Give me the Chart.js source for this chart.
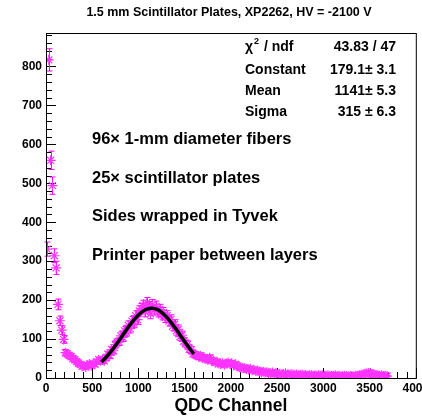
<!DOCTYPE html>
<html>
<head>
<meta charset="utf-8">
<script src="https://cdn.jsdelivr.net/npm/chart.js@4"></script>
<style>
  html, body { margin: 0; padding: 0; background: #fff; }
</style>
</head>
<body>
<canvas id="qdcGrafik" width="422" height="417"></canvas>
<script>
// Histogram: 20-channel bins starting at channel 0 (bin centres 10, 30, 50, ...)
const binWidth = 20;
const counts = [
    331, 817, 559, 494, 314, 283, 189, 147, 123, 99,     // 0 - 200
    65, 62, 58, 55, 50, 47, 42, 38, 35, 30,              // 200 - 400
    31, 28, 33, 36, 32, 37, 35, 42, 47, 44,              // 400 - 600
    46, 44, 52, 61, 58, 73, 70, 86, 92, 93,              // 600 - 800
    108, 104, 121, 118, 135, 127, 146, 141, 160, 150,    // 800 - 1000
    172, 178, 186, 170, 193, 183, 165, 188, 175, 184,    // 1000 - 1200
    170, 176, 162, 168, 155, 160, 146, 150, 133, 138,    // 1200 - 1400
    121, 125, 106, 110, 94, 88, 86, 74, 72, 62,          // 1400 - 1600
    60, 58, 55, 57, 51, 53, 49, 47, 52, 45,              // 1600 - 1800
    44, 40, 42, 37, 36, 38, 34, 37, 40, 36,              // 1800 - 2000
    38, 33, 35, 30, 28, 27, 25, 26, 23, 22,              // 2000 - 2200
    24, 20, 21, 18, 19, 17, 15, 16, 14, 15,              // 2200 - 2400
    13, 12, 14, 11, 12, 10, 11, 9, 10, 12,               // 2400 - 2600
    9, 8, 10, 9, 8, 9, 7, 8, 9, 7,                       // 2600 - 2800
    8, 6, 7, 8, 6, 7, 6, 8, 6, 7,                        // 2800 - 3000
    5, 6, 7, 5, 6, 5, 7, 5, 6, 4,                        // 3000 - 3200
    5, 6, 5, 4, 6, 5, 4, 6, 5, 7,                        // 3200 - 3400
    8, 9, 11, 12, 13, 12, 10, 9, 8, 7,                   // 3400 - 3600
    6, 7, 5, 6, 5                                        // 3600 - 3700
];

// Gaussian fit curve
const fitChannels = [600, 650, 700, 750, 800, 850, 900, 950, 1000, 1050, 1100,
                     1150, 1200, 1250, 1300, 1350, 1400, 1450, 1500, 1550, 1600];
const fitValues = [41.0, 53.2, 67.2, 82.9, 99.7, 116.9, 133.6, 149.0, 162.0, 171.8, 177.6,
                   179.0, 176.0, 168.7, 157.7, 143.7, 127.7, 110.7, 93.5, 77.1, 61.9];

// Axis ticks
const xTickValues = [0, 500, 1000, 1500, 2000, 2500, 3000, 3500, 4000];
const yTickValues = [0, 100, 200, 300, 400, 500, 600, 700, 800];
const xMinorStep = 100;
const yMinorStep = 20;

// Texts
const baslik = '1.5 mm Scintillator Plates, XP2262, HV = -2100 V';
const statLabels = ['Constant', 'Mean', 'Sigma'];
const statValues = ['43.83 / 47', '179.1\u00b1 3.1', '1141\u00b1 5.3', '315 \u00b1 6.3'];
const notlar = ['96\u00d7 1-mm diameter fibers', '25\u00d7 scintillator plates',
                'Sides wrapped in Tyvek', 'Printer paper between layers'];

const fontFam = '"Liberation Sans", Arial, Helvetica, sans-serif';
const pembe = '#ff00ff';

const veriNoktalari = counts.map((c, i) => ({ x: i * binWidth + binWidth / 2, y: c }));
const fitNoktalari = fitChannels.map((ch, i) => ({ x: ch, y: fitValues[i] }));

// Poisson error bars + inward ROOT-style ticks + frame
const rootCizim = {
    id: 'rootCizim',
    beforeDatasetsDraw(chart) {
        const ctx = chart.ctx;
        const xs = chart.scales.x, ys = chart.scales.y;
        const a = chart.chartArea;
        ctx.save();
        ctx.strokeStyle = '#000';
        ctx.lineWidth = 1;
        // ticks on the y axis
        for (let v = 0; v <= ys.max; v += yMinorStep) {
            const py = Math.round(ys.getPixelForValue(v)) + 0.5;
            const len = yTickValues.includes(v) ? 10 : 6;
            ctx.beginPath(); ctx.moveTo(a.left, py); ctx.lineTo(a.left + len, py); ctx.stroke();
        }
        // ticks on the x axis
        for (let v = 0; v <= xs.max; v += xMinorStep) {
            const px = Math.round(xs.getPixelForValue(v)) + 0.5;
            const len = xTickValues.includes(v) ? 10 : 6;
            ctx.beginPath(); ctx.moveTo(px, a.bottom); ctx.lineTo(px, a.bottom - len); ctx.stroke();
        }
        // error bars
        ctx.strokeStyle = pembe;
        veriNoktalari.forEach(p => {
            const err = Math.sqrt(p.y);
            const px = Math.round(xs.getPixelForValue(p.x)) + 0.5;
            const y1 = ys.getPixelForValue(p.y - err);
            const y2 = ys.getPixelForValue(p.y + err);
            ctx.beginPath();
            ctx.moveTo(px, y1); ctx.lineTo(px, y2);
            ctx.moveTo(px - 3, y1); ctx.lineTo(px + 3, y1);
            ctx.moveTo(px - 3, y2); ctx.lineTo(px + 3, y2);
            ctx.stroke();
        });
        ctx.restore();
    },
    afterDraw(chart) {
        const ctx = chart.ctx;
        const a = chart.chartArea;
        ctx.save();
        ctx.strokeStyle = '#000';
        ctx.lineWidth = 1;
        ctx.strokeRect(a.left + 0.5, a.top + 0.5, a.right - a.left, a.bottom - a.top);

        ctx.fillStyle = '#000';
        ctx.textBaseline = 'middle';

        // title
        ctx.textAlign = 'center';
        ctx.font = `bold 12.5px ${fontFam}`;
        ctx.fillText(baslik, 229, 13);

        // stats box
        const satirY = [47, 70, 91, 112];
        ctx.textAlign = 'left';
        ctx.font = `bold 14px ${fontFam}`;
        ctx.fillText('\u03c7', 245, satirY[0]);
        let w = ctx.measureText('\u03c7').width;
        ctx.font = `bold 9px ${fontFam}`;
        ctx.fillText('2', 245 + w + 1, satirY[0] - 5);
        ctx.font = `bold 14px ${fontFam}`;
        ctx.fillText(' / ndf', 245 + w + 7, satirY[0]);
        statLabels.forEach((s, i) => ctx.fillText(s, 245, satirY[i + 1]));
        ctx.textAlign = 'right';
        statValues.forEach((s, i) => ctx.fillText(s, 396, satirY[i]));

        // notes
        ctx.textAlign = 'left';
        ctx.font = `bold 16.5px ${fontFam}`;
        const notY = [139, 178, 216.5, 255];
        notlar.forEach((s, i) => ctx.fillText(s, 92, notY[i]));
        ctx.restore();
    }
};

const ctx = document.getElementById('qdcGrafik').getContext('2d');
new Chart(ctx, {
    type: 'scatter',
    data: {
        datasets: [{
            label: 'fit',
            data: fitNoktalari,
            showLine: true,
            borderColor: '#000',
            borderWidth: 3.5,
            pointRadius: 0,
            tension: 0.4,
            order: 0
        }, {
            label: 'QDC',
            data: veriNoktalari,
            pointStyle: 'star',
            pointRadius: 5,
            borderColor: '#ff33ff',
            backgroundColor: '#ff33ff',
            borderWidth: 1.2,
            order: 1
        }]
    },
    options: {
        responsive: false,
        animation: false,
        layout: { padding: { top: 33, right: 6, left: 0, bottom: 0 } },
        scales: {
            x: {
                type: 'linear',
                min: 0,
                max: 4000,
                afterBuildTicks: s => { s.ticks = xTickValues.map(v => ({ value: v })); },
                afterFit: s => { s.height = 39; s.paddingLeft = 0; s.paddingRight = 0; },
                grid: { display: false, drawTicks: false },
                border: { display: false },
                ticks: {
                    padding: 3,
                    color: '#000',
                    maxRotation: 0,
                    autoSkip: false,
                    callback: v => String(v),
                    font: { family: fontFam, size: 12, weight: 'bold' }
                },
                title: {
                    display: true,
                    text: 'QDC Channel',
                    color: '#000',
                    padding: { top: 0, bottom: 0 },
                    font: { family: fontFam, size: 17.5, weight: 'bold' }
                }
            },
            y: {
                min: 0,
                max: 886,
                afterBuildTicks: s => { s.ticks = yTickValues.map(v => ({ value: v })); },
                afterFit: s => { s.width = 46; s.paddingTop = 0; s.paddingBottom = 0; },
                grid: { display: false, drawTicks: false },
                border: { display: false },
                ticks: {
                    padding: 4,
                    color: '#000',
                    callback: v => String(v),
                    font: { family: fontFam, size: 12, weight: 'bold' }
                }
            }
        },
        plugins: {
            legend: { display: false },
            tooltip: { enabled: false }
        }
    },
    plugins: [rootCizim]
});
</script>
</body>
</html>
